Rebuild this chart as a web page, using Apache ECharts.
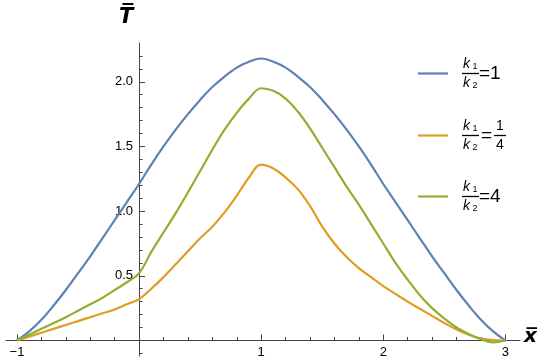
<!DOCTYPE html>
<html>
<head>
<meta charset="utf-8">
<script src="https://cdn.jsdelivr.net/npm/echarts@6/dist/echarts.min.js"></script>
<style>
html,body{margin:0;padding:0;background:#fff;}
#chart{width:550px;height:362px;}
</style>
</head>
<body>
<div id="chart"></div>
<script>
// x positions (shared by all series)
var xValues = [-1,-0.9,-0.8,-0.7,-0.6,-0.5,-0.4,-0.3,-0.2,-0.1,0,0.1,0.2,0.3,0.4,0.5,0.6,0.7,0.8,0.9,1,1.1,1.2,1.3,1.4,1.5,1.6,1.7,1.8,1.9,2,2.1,2.2,2.3,2.4,2.5,2.6,2.7,2.8,2.9,3];
// k1/k2 = 1
var tRatio1 = [0,0.07,0.16,0.27,0.39,0.52,0.65,0.79,0.93,1.07,1.21,1.36,1.50,1.63,1.75,1.86,1.96,2.04,2.11,2.155,2.18,2.155,2.11,2.04,1.96,1.86,1.75,1.63,1.50,1.36,1.21,1.07,0.93,0.79,0.65,0.52,0.39,0.27,0.16,0.07,0];
// k1/k2 = 1/4
var tRatioQuarter = [0,0.03,0.06,0.09,0.12,0.15,0.18,0.21,0.24,0.28,0.32,0.40,0.49,0.59,0.69,0.79,0.88,0.99,1.12,1.26,1.36,1.33,1.26,1.17,1.04,0.88,0.75,0.645,0.56,0.49,0.42,0.36,0.30,0.245,0.19,0.135,0.085,0.045,0.015,0.003,0];
// k1/k2 = 4
var tRatio4 = [0,0.045,0.09,0.135,0.18,0.23,0.28,0.33,0.39,0.45,0.52,0.685,0.835,0.985,1.145,1.31,1.475,1.63,1.76,1.87,1.95,1.93,1.87,1.77,1.64,1.49,1.34,1.19,1.05,0.90,0.75,0.60,0.47,0.35,0.25,0.17,0.10,0.05,0.01,-0.015,0];

var seriesNames = ['r1','rq','r4'];
var xMajorTicks = [-1,1,2,3];
var xMinorTicks = [-0.8,-0.6,-0.4,-0.2,0.2,0.4,0.6,0.8,1.2,1.4,1.6,1.8,2.2,2.4,2.6,2.8];
var yMajorTicks = [0.5,1,1.5,2];
var yMinorTicks = [-0.1,0.1,0.2,0.3,0.4,0.6,0.7,0.8,0.9,1.1,1.2,1.3,1.4,1.6,1.7,1.8,1.9,2.1,2.2];

function pairs(ys){ return xValues.map(function(x,i){ return [x, ys[i]]; }); }

var FONT = 'Liberation Sans';
var AXIS_COLOR = '#444';
var colors = ['#5e81b5','#e19c24','#8fb032'];

var chart = echarts.init(document.getElementById('chart'), null, {renderer:'canvas'});

var xMin = -1.09, xMax = 3.12, yMin = -0.12, yMax = 2.3;
var GRID = {left: 6, right: 30, top: 43, bottom: 6};
// pixel distance of the zero lines from the grid edges
var plotW = 550 - GRID.left - GRID.right, plotH = 362 - GRID.top - GRID.bottom;
var yAxisShift = (0 - xMin) / (xMax - xMin) * plotW;
var xAxisShift = (0 - yMin) / (yMax - yMin) * plotH;

function kRich(){
  return {
    k: {fontFamily: FONT, fontStyle:'italic', fontSize: 14, color:'#000', width: 9, align:'right', lineHeight: 15},
    s: {fontFamily: FONT, fontSize: 9, color:'#000', width: 8, align:'left', verticalAlign:'bottom', lineHeight: 15},
    bar: {width: 17, height: 1.3, backgroundColor:'#000', lineHeight: 4},
    eq: {fontFamily: FONT, fontSize: 19, color:'#000', lineHeight: 4, width: 24, align:'left'},
    sp1: {width: 24, lineHeight: 15},
    eqs: {fontFamily: FONT, fontSize: 19, color:'#000', lineHeight: 4, width: 15, align:'center'},
    sp: {width: 15, lineHeight: 15},
    n: {fontFamily: FONT, fontSize: 14, color:'#000', width: 12, align:'center', lineHeight: 15},
    bar2: {width: 12, height: 1.3, backgroundColor:'#000', lineHeight: 4}
  };
}
var legendTexts = {
  r1: '{k|k}{s|1}{sp1|}\n{bar|}{eq|=1}\n{k|k}{s|2}{sp1|}',
  rq: '{k|k}{s|1}{sp|}{n|1}\n{bar|}{eqs|=}{bar2|}\n{k|k}{s|2}{sp|}{n|4}',
  r4: '{k|k}{s|1}{sp1|}\n{bar|}{eq|=4}\n{k|k}{s|2}{sp1|}'
};
var legendTops = [57, 119, 180];

function makeLegend(name, top){
  return {
    data: [name], left: 418, top: top, orient:'vertical', padding: 0,
    icon: 'rect', itemWidth: 30, itemHeight: 2.2,
    selectedMode: false,
    formatter: function(n){ return legendTexts[n]; },
    textStyle: {padding:[0,0,0,9], rich: kRich()}
  };
}

var labelStyle = {fontFamily: FONT, fontSize: 13, color:'#000'};

var option = {
  animation: false,
  color: colors,
  grid: {left: GRID.left, right: GRID.right, top: GRID.top, bottom: GRID.bottom, containLabel: false, outerBoundsMode: 'none'},
  legend: seriesNames.map(function(n,i){ return makeLegend(n, legendTops[i]); }),
  xAxis: [{
    type:'value', min: xMin, max: xMax,
    axisLine:{show:true, onZero:true, onZeroAxisIndex:0, lineStyle:{color:AXIS_COLOR, width:1}},
    axisTick:{show:true, inside:true, length:6, customValues: xMajorTicks, lineStyle:{color:AXIS_COLOR}},
    axisLabel:{show:false}, splitLine:{show:false}
  },{
    type:'value', min: xMin, max: xMax, position:'bottom',
    axisLine:{show:false, onZero:true, onZeroAxisIndex:0},
    axisTick:{show:true, inside:true, length:3.5, customValues: xMinorTicks, lineStyle:{color:AXIS_COLOR}},
    axisLabel:{show:false}, splitLine:{show:false}
  },{
    // labels only, shifted up to the zero line
    type:'value', min: xMin, max: xMax, position:'bottom', offset: -xAxisShift,
    axisLine:{show:false, onZero:false}, axisTick:{show:false}, splitLine:{show:false},
    axisLabel:Object.assign({show:true, customValues: xMajorTicks, margin: 5,
      formatter:function(v){ return v < 0 ? '\u2212' + (-v) : String(v); }}, labelStyle)
  }],
  yAxis: [{
    type:'value', min: yMin, max: yMax,
    axisLine:{show:true, onZero:true, onZeroAxisIndex:0, lineStyle:{color:AXIS_COLOR, width:1}},
    axisTick:{show:true, inside:true, length:6, customValues: yMajorTicks, lineStyle:{color:AXIS_COLOR}},
    axisLabel:{show:false}, splitLine:{show:false}
  },{
    type:'value', min: yMin, max: yMax, position:'left',
    axisLine:{show:false, onZero:true, onZeroAxisIndex:0},
    axisTick:{show:true, inside:true, length:3.5, customValues: yMinorTicks, lineStyle:{color:AXIS_COLOR}},
    axisLabel:{show:false}, splitLine:{show:false}
  },{
    // labels only, shifted right to the zero line
    type:'value', min: yMin, max: yMax, position:'left', offset: -yAxisShift,
    axisLine:{show:false, onZero:false}, axisTick:{show:false}, splitLine:{show:false},
    axisLabel:Object.assign({show:true, customValues: yMajorTicks, margin: 6,
      formatter:function(v){ return v.toFixed(1); }}, labelStyle)
  }],
  graphic: [
    {type:'text', left: 119, top: 7, style:{text:'T\u0305', font:'italic bold 21px "DejaVu Sans"', fill:'#000'}},
    {type:'text', left: 524, top: 327, style:{text:'x\u0305', font:'italic bold 20px "DejaVu Sans"', fill:'#000'}}
  ],
  series: [
    {name:'r1', type:'line', data: pairs(tRatio1), showSymbol:false, smooth:0.4, lineStyle:{width:2.2}, clip:false},
    {name:'rq', type:'line', data: pairs(tRatioQuarter), showSymbol:false, smooth:0.4, lineStyle:{width:2.2}, clip:false},
    {name:'r4', type:'line', data: pairs(tRatio4), showSymbol:false, smooth:0.4, lineStyle:{width:2.2}, clip:false}
  ]
};
chart.setOption(option);
</script>
</body>
</html>
